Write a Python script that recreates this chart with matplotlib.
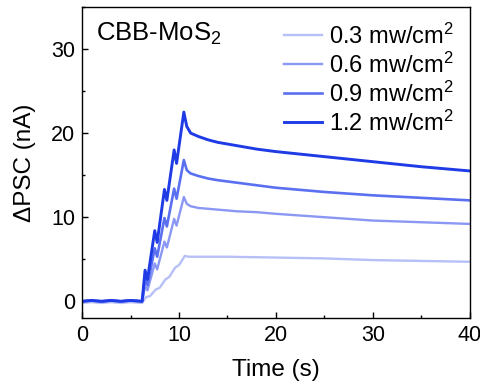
import matplotlib.pyplot as plt
from matplotlib.ticker import MultipleLocator

plt.rcParams["font.family"] = ["Liberation Sans", "DejaVu Sans"]
plt.rcParams["mathtext.fontset"] = "custom"
plt.rcParams["mathtext.rm"] = "Liberation Sans"
plt.rcParams["mathtext.it"] = "Liberation Sans"

# Light intensities (legend labels)
labels = ["0.3 mw/cm$^2$", "0.6 mw/cm$^2$", "0.9 mw/cm$^2$", "1.2 mw/cm$^2$"]
colors = ["#b7c0f6", "#8a98f4", "#5b70f0", "#1e3be6"]
widths = [1.7, 1.7, 1.9, 2.1]

# Time points for the pulsed traces (s)
t_pulse = [0, 1, 2, 3, 4, 5, 6.2, 6.5, 6.75, 7.5, 7.75, 8.5, 8.75, 9.5, 9.75,
           10.5, 10.8, 11.2, 12, 13, 14, 16, 18, 20, 25, 30, 35, 40]
i_06 = [0.0, 0.1, -0.1, 0.1, 0.0, 0.1, 0.0, 1.8, 1.3, 4.5, 3.8, 7.1, 6.4, 9.8, 9.0,
        12.4, 11.6, 11.3, 11.1, 11.0, 10.9, 10.7, 10.6, 10.4, 10.0, 9.6, 9.4, 9.2]
i_09 = [0.0, 0.1, 0.0, 0.1, 0.0, 0.1, 0.0, 2.7, 1.9, 6.3, 5.3, 9.9, 8.9, 13.4, 12.2,
        16.8, 15.6, 15.2, 14.9, 14.6, 14.4, 14.1, 13.8, 13.5, 13.0, 12.6, 12.3, 12.0]
i_12 = [0.0, 0.1, 0.0, 0.1, 0.0, 0.1, 0.0, 3.7, 2.6, 8.4, 7.0, 13.3, 12.0, 18.0, 16.4,
        22.5, 20.8, 20.0, 19.6, 19.2, 18.9, 18.5, 18.1, 17.8, 17.2, 16.6, 16.0, 15.5]

# Lowest intensity: smoother ramp
t_low = [0, 1, 2, 3, 4, 5, 6.2, 6.6, 7.0, 7.6, 8.0, 8.6, 9.0, 9.6, 10.0, 10.6,
         11.0, 12, 15, 20, 25, 30, 35, 40]
i_03 = [-0.2, -0.1, -0.2, -0.1, -0.2, -0.1, -0.2, 0.5, 0.6, 1.4, 1.6, 2.6, 2.9, 4.0,
        4.3, 5.4, 5.3, 5.3, 5.3, 5.2, 5.1, 4.9, 4.8, 4.7]

fig = plt.figure(figsize=(4.81, 3.87), dpi=100)
ax = fig.add_axes([0.1705, 0.178, 0.8065, 0.804])

series = [(t_low, i_03), (t_pulse, i_06), (t_pulse, i_09), (t_pulse, i_12)]
for (t, y), lab, c, lw in zip(series, labels, colors, widths):
    ax.plot(t, y, color=c, lw=lw, label=lab)

ax.set_xlim(0, 40)
ax.set_ylim(-2, 35)
ax.xaxis.set_major_locator(MultipleLocator(10))
ax.xaxis.set_minor_locator(MultipleLocator(5))
ax.yaxis.set_major_locator(MultipleLocator(10))
ax.yaxis.set_minor_locator(MultipleLocator(5))
ax.tick_params(which="both", direction="in", labelsize=15.5, width=1)
ax.tick_params(which="major", length=4, pad=5)
ax.tick_params(which="minor", length=2.5)
for s in ax.spines.values():
    s.set_linewidth(1)

ax.set_xlabel("Time (s)", fontsize=17.5, labelpad=9)
ax.set_ylabel("ΔPSC (nA)", fontsize=17.5, labelpad=11)

ax.text(0.037, 0.915, "CBB-MoS$_2$", transform=ax.transAxes, fontsize=18.5,
        va="center", ha="left")

ax.legend(loc="upper right", frameon=False, fontsize=17, handlelength=1.6,
          handletextpad=0.3, labelspacing=0.16, borderaxespad=0.4,
          borderpad=0.3)

fig.savefig("out.png", dpi=100)
